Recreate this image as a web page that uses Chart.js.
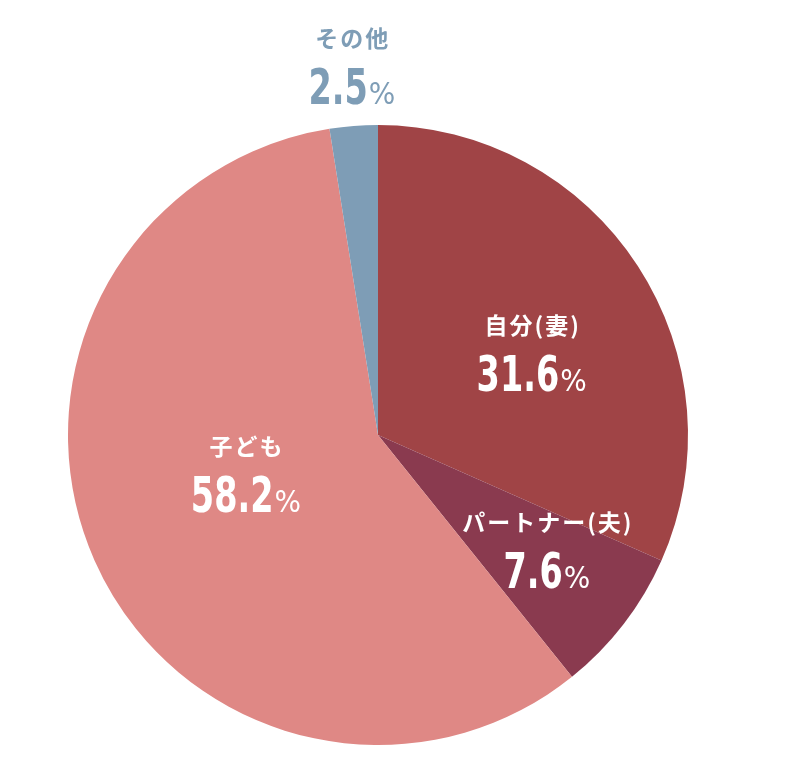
<!DOCTYPE html>
<html lang="ja">
<head>
<meta charset="utf-8">
<script src="https://cdn.jsdelivr.net/npm/chart.js@4"></script>
<style>
  html, body { margin: 0; padding: 0; background: #fff; }
  #wrap { width: 792px; height: 778px; }
</style>
</head>
<body>
<div id="wrap"><canvas id="pie"></canvas></div>
<script>
const categories = ["自分(妻)", "パートナー(夫)", "子ども", "その他"];
const shares = [31.6, 7.6, 58.2, 2.5];
const sliceColors = ["#a04446", "#8a3a4f", "#df8885", "#7e9db6"];

// where each label sits: fraction of radius, angle nudge (deg), text colour
const labelSpots = [
  { f: 0.57, nudge: 3.5, color: "#fff" },
  { f: 0.65, nudge: -4.5, color: "#fff" },
  { f: 0.44, nudge: 9.4, color: "#fff" },
  { f: 1.21, nudge: 0.5, color: "#7e9db6" },
];

const numFont = "bold 49px 'Liberation Sans Narrow', 'DejaVu Sans Condensed'";
const pctFont = "31px 'DejaVu Sans Condensed'";

const sliceLabels = {
  id: "sliceLabels",
  afterDatasetsDraw(chart) {
    const c = chart.ctx;
    const arcs = chart.getDatasetMeta(0).data;
    arcs.forEach((arc, i) => {
      const p = arc.getProps(["x", "y", "startAngle", "endAngle", "outerRadius"], true);
      const spot = labelSpots[i];
      const a = (p.startAngle + p.endAngle) / 2 + spot.nudge * Math.PI / 180;
      const cx = p.x + Math.cos(a) * p.outerRadius * spot.f;
      const cy = p.y + Math.sin(a) * p.outerRadius * spot.f;

      c.save();
      c.fillStyle = spot.color;
      c.textAlign = "center";
      c.textBaseline = "middle";
      c.font = "bold 23px 'Noto Sans CJK JP'";
      c.letterSpacing = "2px";
      c.fillText(categories[i], cx + 1, cy - 23);
      c.letterSpacing = "0px";

      // big number (condensed) + small %
      const num = shares[i].toFixed(1);
      const squeeze = 0.76;
      c.font = numFont;
      const nw = c.measureText(num).width * squeeze;
      c.font = pctFont;
      const pw = c.measureText("%").width;
      const gap = 1;
      const left = cx - (nw + pw + gap) / 2;
      const base = cy + 43;
      c.textAlign = "left";
      c.textBaseline = "alphabetic";
      c.save();
      c.translate(left, base);
      c.scale(squeeze, 1);
      c.font = numFont;
      c.fillText(num, 0, 0);
      c.restore();
      c.font = pctFont;
      c.fillText("%", left + nw + gap, base);
      c.restore();
    });
  },
};

new Chart(document.getElementById("pie"), {
  type: "pie",
  data: {
    labels: categories,
    datasets: [
      {
        data: shares,
        backgroundColor: sliceColors,
        borderWidth: 0,
      },
    ],
  },
  options: {
    responsive: true,
    maintainAspectRatio: false,
    animation: false,
    layout: { padding: { top: 125, bottom: 33, left: 68, right: 104 } },
    plugins: {
      legend: { display: false },
      tooltip: { enabled: false },
    },
  },
  plugins: [sliceLabels],
});
</script>
</body>
</html>
